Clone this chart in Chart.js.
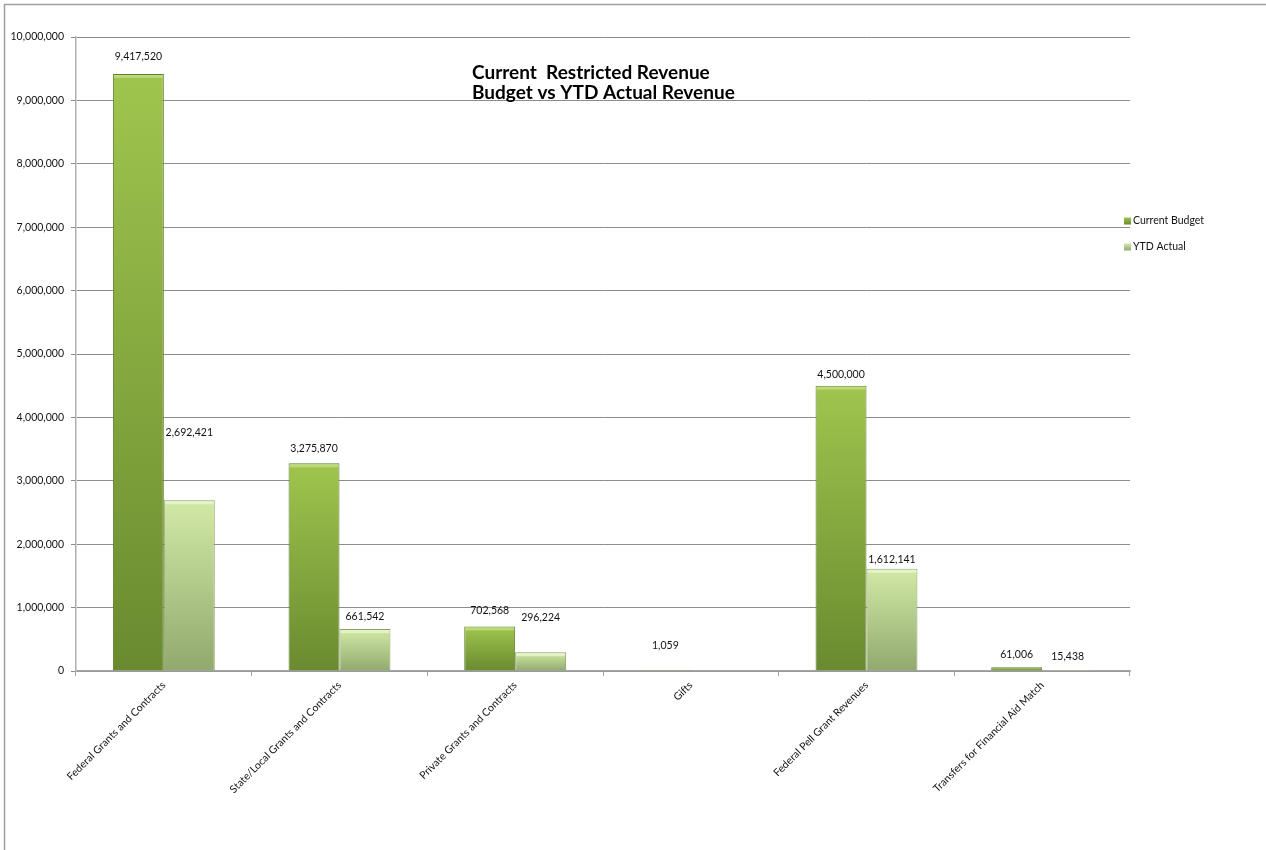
<!DOCTYPE html>
<html><head><meta charset="utf-8">
<script src="https://cdn.jsdelivr.net/npm/chart.js@4/dist/chart.umd.min.js"></script>
<style>html,body{margin:0;padding:0;background:#fff;}#wrap{width:1266px;height:850px;position:relative;}canvas{display:block}</style>
</head><body><div id="wrap"><canvas id="c" width="1266" height="850"></canvas></div>
<script>
// ---- data ----
const categories = ["Federal Grants and Contracts", "State/Local Grants and Contracts", "Private Grants and Contracts", "Gifts", "Federal Pell Grant Revenues", "Transfers for Financial Aid Match"];
const currentBudget = [9417520, 3275870, 702568, 1059, 4500000, 61006];
const ytdActual = [2692421, 661542, 296224, null, 1612141, 15438];
const seriesNames = ["Current Budget", "YTD Actual"];
const yTickValues = [0, 1000000, 2000000, 3000000, 4000000, 5000000, 6000000, 7000000, 8000000, 9000000, 10000000];
const titleLines = ["Current  Restricted Revenue", "Budget vs YTD Actual Revenue"];

// ---- styling (label lift above bar tops, px) ----
const labelLift = [[17, 15, 16, 25, 11, 13], [68, 12, 35, 0, 9, 13]];
const FONT = "Lato, 'Open Sans', sans-serif";
const palette = [
  {top: '#a0c54e', bottom: '#6a8a2f', border: '#5f7d2a', hi: '#c2de84'},
  {top: '#d2e9a6', bottom: '#91a96d', border: '#8aa266', hi: '#eaf6cf'}
];

function grad(i) {
  return (c) => {
    const chart = c.chart;
    if (!chart.chartArea || !chart.scales.y || c.raw == null) return palette[i].top;
    const y = chart.scales.y;
    const yTop = y.getPixelForValue(c.raw), yBot = y.getPixelForValue(0);
    if (yBot - yTop < 2) return palette[i].top;
    const g = chart.ctx.createLinearGradient(0, yTop, 0, yBot);
    g.addColorStop(0, palette[i].top);
    g.addColorStop(1, palette[i].bottom);
    return g;
  };
}

const fmt = (v) => v.toLocaleString('en-US');

const extras = {
  id: 'extras',
  beforeDraw(chart) {
    const ctx = chart.ctx;
    ctx.save();
    ctx.strokeStyle = '#a0a0a0';
    ctx.lineWidth = 1.5;
    ctx.beginPath();
    ctx.moveTo(4.5, 850); ctx.lineTo(4.5, 4.5); ctx.lineTo(1266, 4.5);
    ctx.stroke();
    ctx.restore();
  },
  afterDatasetsDraw(chart) {
    const ctx = chart.ctx;
    ctx.save();
    chart.data.datasets.forEach((ds, di) => {
      const meta = chart.getDatasetMeta(di);
      meta.data.forEach((el, i) => {
        const v = ds.data[i];
        if (v == null) return;
        const h = el.base - el.y;
        if (h > 4) {
          ctx.fillStyle = palette[di].hi;
          ctx.globalAlpha = 0.8;
          ctx.fillRect(el.x - el.width / 2 + 1, el.y + 1, el.width - 2, 3);
          ctx.globalAlpha = 1;
        }
        ctx.fillStyle = '#111';
        ctx.font = '10.5px ' + FONT;
        ctx.textAlign = 'center';
        ctx.textBaseline = 'middle';
        ctx.fillText(fmt(v), el.x, el.y - labelLift[di][i]);
      });
    });
    ctx.restore();
  },
  afterDraw(chart) {
    const ctx = chart.ctx;
    ctx.save();
    // title
    ctx.fillStyle = '#000';
    ctx.font = 'bold 19px ' + FONT;
    ctx.textAlign = 'left';
    ctx.textBaseline = 'alphabetic';
    ctx.fillText(titleLines[0], 472, 79);
    ctx.fillText(titleLines[1], 472, 99);
    // legend
    ctx.font = '10.5px ' + FONT;
    ctx.textBaseline = 'middle';
    [221, 247].forEach((yy, i) => {
      const g = ctx.createLinearGradient(0, yy - 3.5, 0, yy + 3.5);
      g.addColorStop(0, palette[i].top); g.addColorStop(1, palette[i].bottom);
      ctx.fillStyle = g;
      ctx.fillRect(1124, yy - 3.5, 7, 7);
      ctx.fillStyle = '#111';
      ctx.fillText(seriesNames[i], 1133, yy);
    });
    ctx.restore();
  }
};

new Chart(document.getElementById('c'), {
  type: 'bar',
  data: {
    labels: categories,
    datasets: [
      {label: seriesNames[0], data: currentBudget, backgroundColor: grad(0), borderColor: palette[0].border, borderWidth: 1},
      {label: seriesNames[1], data: ytdActual, backgroundColor: grad(1), borderColor: palette[1].border, borderWidth: 1}
    ]
  },
  options: {
    responsive: false,
    animation: false,
    devicePixelRatio: 1,
    categoryPercentage: 0.58,
    barPercentage: 1.0,
    layout: {padding: {left: 0, right: 136, top: 37, bottom: 0}},
    plugins: {legend: {display: false}, title: {display: false}, tooltip: {enabled: false}},
    scales: {
      x: {
        offset: true,
        grid: {display: true, drawOnChartArea: false, drawTicks: true, tickLength: 5, color: '#a6a6a6', offset: true},
        border: {display: true, color: '#a6a6a6', width: 1.5},
        ticks: {autoSkip: false, maxRotation: 45, minRotation: 45, padding: 3, color: '#111', font: {family: FONT, size: 10.5}},
        afterFit: (s) => { s.height = 179; }
      },
      y: {
        min: 0, max: 10000000,
        afterBuildTicks: (s) => { s.ticks = yTickValues.map(v => ({value: v})); },
        grid: {color: '#8c8c8c', lineWidth: 1, tickLength: 5, drawTicks: true},
        border: {display: true, color: '#b0b0b0', width: 1.5},
        ticks: {padding: 7, color: '#111', font: {family: FONT, size: 10.5}, callback: (v) => fmt(v)},
        afterFit: (s) => { s.width = 76; }
      }
    }
  },
  plugins: [extras]
});
</script>
</body></html>
